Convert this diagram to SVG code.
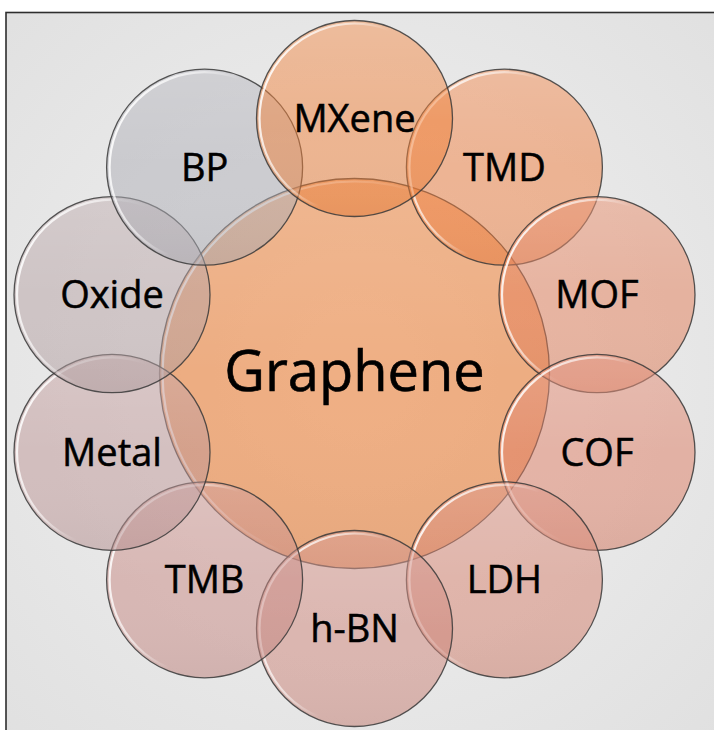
<svg xmlns="http://www.w3.org/2000/svg" width="714" height="730" viewBox="0 0 714 730">
<defs>
<radialGradient id="bg" cx="357" cy="370" r="520" gradientUnits="userSpaceOnUse">
<stop offset="0" stop-color="#f2f2f2"/>
<stop offset="1" stop-color="#e0e0e0"/>
</radialGradient>
<linearGradient id="rim" x1="0" y1="0.3" x2="1" y2="0.7">
<stop offset="0" stop-color="#fff" stop-opacity="0.9"/>
<stop offset="0.3" stop-color="#fff" stop-opacity="0.55"/>
<stop offset="0.5" stop-color="#fff" stop-opacity="0"/>
</linearGradient>
<linearGradient id="sheen" x1="0" y1="0" x2="0" y2="1">
<stop offset="0" stop-color="#fff" stop-opacity="0.12"/>
<stop offset="0.5" stop-color="#fff" stop-opacity="0"/>
<stop offset="1" stop-color="#000" stop-opacity="0.03"/>
</linearGradient>
<style>
.c{fill-opacity:0.5;stroke:none}
.o{fill:none;stroke:#383838;stroke-opacity:0.85;stroke-width:1.3}
.r{fill:none;stroke:url(#rim);stroke-width:2.2}
.s{fill:url(#sheen)}
.t{font-family:"Open Sans","Noto Sans",sans-serif;font-size:38px;fill:#000;stroke:#000;stroke-width:0.5;text-anchor:middle}
.big{font-size:56px;stroke-width:0.6}
</style>
</defs>
<rect x="0" y="0" width="714" height="730" fill="#ffffff"/>
<rect x="6" y="12.5" width="740" height="760" fill="url(#bg)" stroke="#2e2e2e" stroke-width="1.6"/>

<g id="graphene">
<circle class="c" cx="354.5" cy="373.5" r="195" fill="#ed7d31" style="fill-opacity:0.57"/>
<circle class="s" cx="354.5" cy="373.5" r="195"/>
<circle class="r" cx="354.5" cy="373.5" r="192"/>
<circle class="o" cx="354.5" cy="373.5" r="195"/>
<text class="t big" x="354.5" y="391">Graphene</text>
</g>

<g id="tmd">
<circle class="c" cx="504.4" cy="167.2" r="98" fill="#f07d3e"/>
<circle class="s" cx="504.4" cy="167.2" r="98"/>
<circle class="r" cx="504.4" cy="167.2" r="95"/>
<circle class="o" cx="504.4" cy="167.2" r="98"/>
<text class="t" x="504.4" y="180.5">TMD</text>
</g>

<g id="mof">
<circle class="c" cx="597" cy="294.7" r="98" fill="#e47e58"/>
<circle class="s" cx="597" cy="294.7" r="98"/>
<circle class="r" cx="597" cy="294.7" r="95"/>
<circle class="o" cx="597" cy="294.7" r="98"/>
<text class="t" x="597" y="308">MOF</text>
</g>

<g id="cof">
<circle class="c" cx="597" cy="452.3" r="98" fill="#de7c62"/>
<circle class="s" cx="597" cy="452.3" r="98"/>
<circle class="r" cx="597" cy="452.3" r="95"/>
<circle class="o" cx="597" cy="452.3" r="98"/>
<text class="t" x="597" y="465.5">COF</text>
</g>

<g id="ldh">
<circle class="c" cx="504.4" cy="579.8" r="98" fill="#d6806c"/>
<circle class="s" cx="504.4" cy="579.8" r="98"/>
<circle class="r" cx="504.4" cy="579.8" r="95"/>
<circle class="o" cx="504.4" cy="579.8" r="98"/>
<text class="t" x="504.4" y="593">LDH</text>
</g>

<g id="hbn">
<circle class="c" cx="354.5" cy="628.5" r="98" fill="#ce8478"/>
<circle class="s" cx="354.5" cy="628.5" r="98"/>
<circle class="r" cx="354.5" cy="628.5" r="95"/>
<circle class="o" cx="354.5" cy="628.5" r="98"/>
<text class="t" x="354.5" y="641.5">h-BN</text>
</g>

<g id="tmb">
<circle class="c" cx="204.6" cy="579.8" r="98" fill="#c88882"/>
<circle class="s" cx="204.6" cy="579.8" r="98"/>
<circle class="r" cx="204.6" cy="579.8" r="95"/>
<circle class="o" cx="204.6" cy="579.8" r="98"/>
<text class="t" x="204.6" y="593">TMB</text>
</g>

<g id="metal">
<circle class="c" cx="112" cy="452.3" r="98" fill="#be9696"/>
<circle class="s" cx="112" cy="452.3" r="98"/>
<circle class="r" cx="112" cy="452.3" r="95"/>
<circle class="o" cx="112" cy="452.3" r="98"/>
<text class="t" x="112" y="465.5">Metal</text>
</g>

<g id="oxide">
<circle class="c" cx="112" cy="294.7" r="98" fill="#b6a2a4"/>
<circle class="s" cx="112" cy="294.7" r="98"/>
<circle class="r" cx="112" cy="294.7" r="95"/>
<circle class="o" cx="112" cy="294.7" r="98"/>
<text class="t" x="112" y="308">Oxide</text>
</g>

<g id="bp">
<circle class="c" cx="204.6" cy="167.2" r="98" fill="#aeaeb6"/>
<circle class="s" cx="204.6" cy="167.2" r="98"/>
<circle class="r" cx="204.6" cy="167.2" r="95"/>
<circle class="o" cx="204.6" cy="167.2" r="98"/>
<text class="t" x="204.6" y="180.5">BP</text>
</g>

<g id="mxene">
<circle class="c" cx="354.5" cy="118.5" r="98" fill="#f07f38"/>
<circle class="s" cx="354.5" cy="118.5" r="98"/>
<circle class="r" cx="354.5" cy="118.5" r="95"/>
<circle class="o" cx="354.5" cy="118.5" r="98"/>
<text class="t" x="354.5" y="131.5">MXene</text>
</g>
</svg>
